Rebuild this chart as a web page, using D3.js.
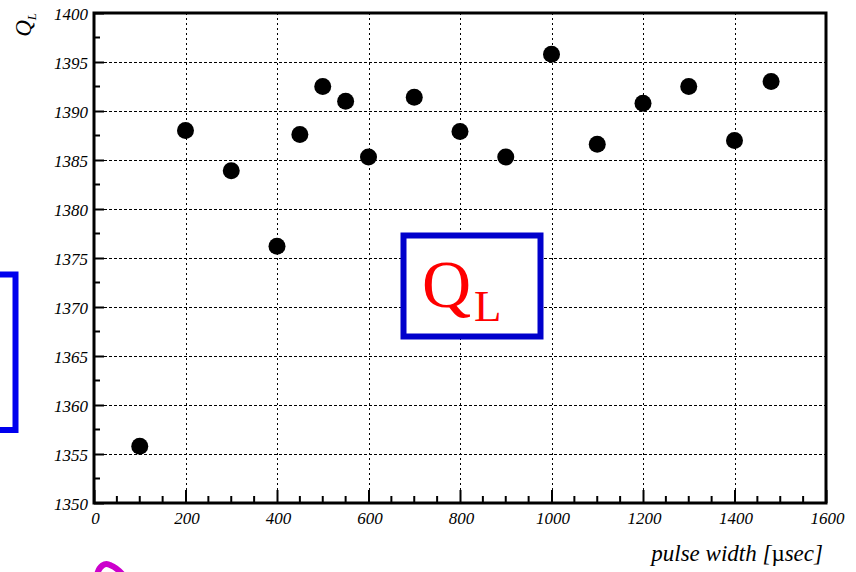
<!DOCTYPE html>
<html>
<head>
<meta charset="utf-8">
<script src="https://cdn.jsdelivr.net/npm/d3@7/dist/d3.min.js"></script>
<style>
  html, body { margin: 0; padding: 0; background: #fff; }
  svg { display: block; }
</style>
</head>
<body>
<svg id="chart" width="856" height="572"></svg>
<script>
// Loaded quality factor versus pulse width
const pulseWidth = [100, 200, 300, 400, 450, 500, 550, 600, 700, 800, 900, 1000, 1100, 1200, 1300, 1400, 1480];
const qLoaded   = [1355.8, 1388.0, 1383.9, 1376.2, 1387.6, 1392.5, 1391.0, 1385.3, 1391.4, 1387.9, 1385.3, 1395.8, 1386.6, 1390.8, 1392.5, 1387.0, 1393.0];

const xMajorTicks = [0, 200, 400, 600, 800, 1000, 1200, 1400, 1600];
const yMajorTicks = [1350, 1355, 1360, 1365, 1370, 1375, 1380, 1385, 1390, 1395, 1400];
const xGridTicks = [200, 400, 600, 800, 1000, 1200, 1400];
const yGridTicks = [1355, 1360, 1365, 1370, 1375, 1380, 1385, 1390, 1395];
const xMinorTicks = d3.range(0, 1601, 50).filter(v => v % 200 !== 0);
const yMinorTicks = d3.range(1352.5, 1400, 5);

const SERIF = '"Liberation Serif", "Times New Roman", serif';

const svg = d3.select("#chart");
svg.append("rect").attr("width", 856).attr("height", 572).attr("fill", "#fff");

const x = d3.scaleLinear().domain([0, 1600]).range([94, 826]);
const y = d3.scaleLinear().domain([1350, 1400]).range([503, 13]);

// dotted grid
const grid = svg.append("g").attr("stroke", "#000").attr("stroke-width", 1).attr("fill", "none");
grid.selectAll("line.v").data(xGridTicks).join("line")
  .attr("class", "v")
  .attr("x1", d => Math.round(x(d)) + 0.5).attr("x2", d => Math.round(x(d)) + 0.5)
  .attr("y1", y(1400)).attr("y2", y(1350))
  .attr("stroke-dasharray", "2,3");
grid.selectAll("line.h").data(yGridTicks).join("line")
  .attr("class", "h")
  .attr("y1", d => Math.round(y(d)) + 0.5).attr("y2", d => Math.round(y(d)) + 0.5)
  .attr("x1", x(0)).attr("x2", x(1600))
  .attr("stroke-dasharray", "3,2");

// axes with inward ticks
const yAxis = d3.axisLeft(y).tickValues(yMajorTicks).tickSize(-10).tickPadding(6).tickFormat(d3.format("d"));
const gy = svg.append("g").attr("transform", `translate(${x(0)},0)`).call(yAxis);
gy.select(".domain").remove();
gy.selectAll(".tick line").attr("stroke", "#000").attr("stroke-width", 2);
gy.selectAll(".tick text")
  .style("font-family", SERIF).style("font-style", "italic").style("font-size", "17px")
  .attr("fill", "#000").attr("dy", "0.36em");

const xAxis = d3.axisBottom(x).tickValues(xMajorTicks).tickSize(-13).tickPadding(9).tickFormat(d3.format("d"));
const gx = svg.append("g").attr("transform", `translate(0,${y(1350)})`).call(xAxis);
gx.select(".domain").remove();
gx.selectAll(".tick line").attr("stroke", "#000").attr("stroke-width", 2);
gx.selectAll(".tick text")
  .style("font-family", SERIF).style("font-style", "italic").style("font-size", "17px")
  .attr("fill", "#000").attr("x", 1);

// minor ticks
svg.append("g").selectAll("line").data(yMinorTicks).join("line")
  .attr("x1", x(0)).attr("x2", x(0) + 6)
  .attr("y1", d => y(d)).attr("y2", d => y(d))
  .attr("stroke", "#000").attr("stroke-width", 2);
svg.append("g").selectAll("line").data(xMinorTicks).join("line")
  .attr("x1", d => x(d)).attr("x2", d => x(d))
  .attr("y1", y(1350)).attr("y2", y(1350) - 7)
  .attr("stroke", "#000").attr("stroke-width", 2);

// frame
svg.append("path")
  .attr("d", `M${x(0)},${y(1350)} L${x(1600)},${y(1350)} L${x(1600)},${y(1400)} L${x(0)},${y(1400)} Z`)
  .attr("fill", "none").attr("stroke", "#000").attr("stroke-width", 3);

// markers
svg.append("g").selectAll("circle").data(pulseWidth.map((p, i) => [p, qLoaded[i]])).join("circle")
  .attr("cx", d => x(d[0])).attr("cy", d => y(d[1])).attr("r", 8.5).attr("fill", "#000");

// axis titles
const ytitle = svg.append("text")
  .attr("transform", "translate(31,13) rotate(-90)")
  .attr("text-anchor", "end")
  .style("font-family", SERIF).style("font-style", "italic").style("font-size", "23px")
  .attr("fill", "#000");
ytitle.append("tspan").text("Q");
ytitle.append("tspan").style("font-size", "13px").attr("dy", 5).text("L");

const xtitle = svg.append("text")
  .attr("x", 823).attr("y", 561)
  .attr("text-anchor", "end")
  .style("font-family", SERIF).style("font-style", "italic").style("font-size", "23px")
  .attr("fill", "#000");
xtitle.append("tspan").text("pulse width [");
xtitle.append("tspan").style("font-style", "normal").text("µ");
xtitle.append("tspan").text("sec]");

// label box
svg.append("rect").attr("x", 403.5).attr("y", 235.5).attr("width", 137).attr("height", 101)
  .attr("fill", "#fff").attr("stroke", "#0000cc").attr("stroke-width", 6);
const ql = svg.append("text").attr("x", 422).attr("y", 307)
  .style("font-family", SERIF).style("font-size", "68px").attr("fill", "#ff0000");
ql.append("tspan").text("Q");
ql.append("tspan").style("font-size", "45px").attr("dx", 3).attr("dy", 14).text("L");

// partial box at the left edge
svg.append("rect").attr("x", -60).attr("y", 274.5).attr("width", 75.5).attr("height", 155.5)
  .attr("fill", "none").attr("stroke", "#0000ee").attr("stroke-width", 6);

// magenta stroke at the bottom edge
svg.append("path")
  .attr("d", "M97,575 C99,566 105,562 110,565 C115,567 119,570 123,575")
  .attr("fill", "none").attr("stroke", "#cc00cc").attr("stroke-width", 6).attr("stroke-linecap", "round");
</script>
</body>
</html>
